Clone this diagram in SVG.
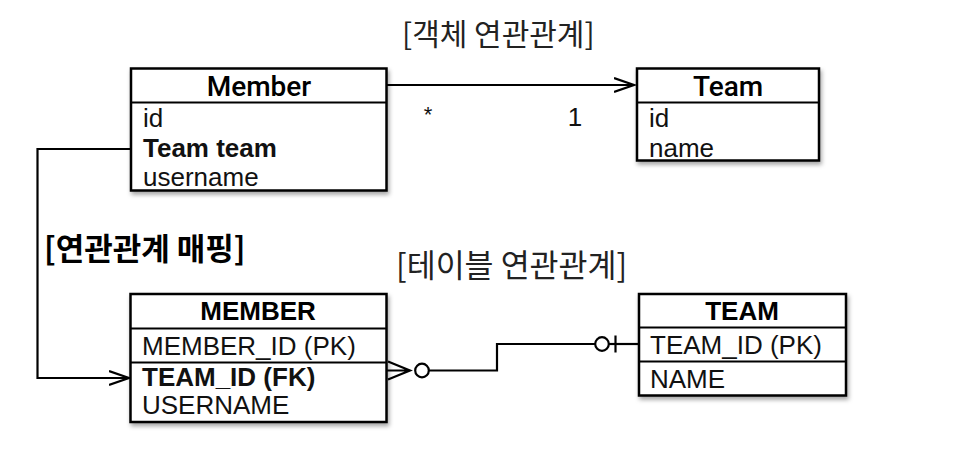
<svg xmlns="http://www.w3.org/2000/svg" width="960" height="449" viewBox="0 0 960 449">
<defs>
<filter id="sh" x="-10%" y="-10%" width="120%" height="130%">
<feDropShadow dx="1.5" dy="3" stdDeviation="2" flood-color="#000" flood-opacity="0.35"/>
</filter>
<marker id="open" markerUnits="userSpaceOnUse" markerWidth="24" markerHeight="18" refX="20" refY="8" orient="auto">
<path d="M0,1 L20,8 L0,15" fill="none" stroke="#000" stroke-width="2.2"/>
</marker>
</defs>
<style>
.box{fill:#fff;stroke:#000;stroke-width:2.5}
.div{stroke:#000;stroke-width:2.2}
.t{font-family:"Liberation Sans","Noto Sans CJK KR",sans-serif;font-size:26px;fill:#111}
.h{font-family:Roboto,"Liberation Sans",sans-serif;font-size:28px;fill:#000;text-anchor:middle;font-weight:500}
.b{font-weight:bold}
.k{font-family:"Noto Sans CJK KR",sans-serif;font-size:30px;fill:#222}
.ln{fill:none;stroke:#000;stroke-width:2.2}
</style>

<text class="k" x="402" y="45">[객체 연관관계]</text>
<text class="k b" x="44" y="260" style="fill:#000;font-size:31px">[연관관계 매핑]</text>
<text class="k" x="396" y="277" style="font-size:31.5px">[테이블 연관관계]</text>

<g id="connectors">
<line class="ln" x1="387" y1="85" x2="634" y2="85" marker-end="url(#open)"/>
<text class="t" x="428" y="122" text-anchor="middle" style="font-size:22px">*</text>
<text class="t" x="575" y="126" text-anchor="middle">1</text>
<polyline class="ln" points="131,149 37.5,149 37.5,378 129,378" marker-end="url(#open)"/>
<path class="ln" d="M387,370.5 L410,370.5 M388,361.5 L410,370.5 L388,379.5"/>
<circle cx="422" cy="370.5" r="6.8" fill="#fff" stroke="#000" stroke-width="2.2"/>
<polyline class="ln" points="428.8,370.5 497,370.5 497,344 595,344"/>
<circle cx="602" cy="344" r="6.8" fill="#fff" stroke="#000" stroke-width="2.2"/>
<line class="ln" x1="608.8" y1="344" x2="639" y2="344"/>
<line class="ln" x1="615.5" y1="335.5" x2="615.5" y2="352.5"/>
</g>

<g id="member">
<rect class="box" x="131" y="68.5" width="255.5" height="122" filter="url(#sh)"/>
<line class="div" x1="131" y1="102.5" x2="386.5" y2="102.5"/>
<text class="h" x="259" y="96">Member</text>
<text class="t" x="143" y="127">id</text>
<text class="t b" x="143" y="157">Team team</text>
<text class="t" x="143" y="186">username</text>
</g>

<g id="team">
<rect class="box" x="637" y="68.5" width="182" height="92" filter="url(#sh)"/>
<line class="div" x1="637" y1="102.5" x2="819" y2="102.5"/>
<text class="h" x="728" y="96">Team</text>
<text class="t" x="649" y="127">id</text>
<text class="t" x="649" y="157">name</text>
</g>

<g id="MEMBER">
<rect class="box" x="130.5" y="294" width="256" height="128" filter="url(#sh)"/>
<line class="div" x1="130.5" y1="328.5" x2="386.5" y2="328.5"/>
<line class="div" x1="130.5" y1="362.5" x2="386.5" y2="362.5"/>
<text class="h b" x="258" y="320" style="font-family:'Liberation Sans',sans-serif;font-size:26px">MEMBER</text>
<text class="t" x="142" y="355">MEMBER_ID (PK)</text>
<text class="t b" x="142" y="386">TEAM_ID (FK)</text>
<text class="t" x="142" y="414">USERNAME</text>
</g>

<g id="TEAM">
<rect class="box" x="639" y="294" width="207" height="101.5" filter="url(#sh)"/>
<line class="div" x1="639" y1="327.5" x2="846" y2="327.5"/>
<line class="div" x1="639" y1="361.5" x2="846" y2="361.5"/>
<text class="h b" x="742" y="320" style="font-family:'Liberation Sans',sans-serif;font-size:26px">TEAM</text>
<text class="t" x="650" y="354">TEAM_ID (PK)</text>
<text class="t" x="650" y="388">NAME</text>
</g>
</svg>
